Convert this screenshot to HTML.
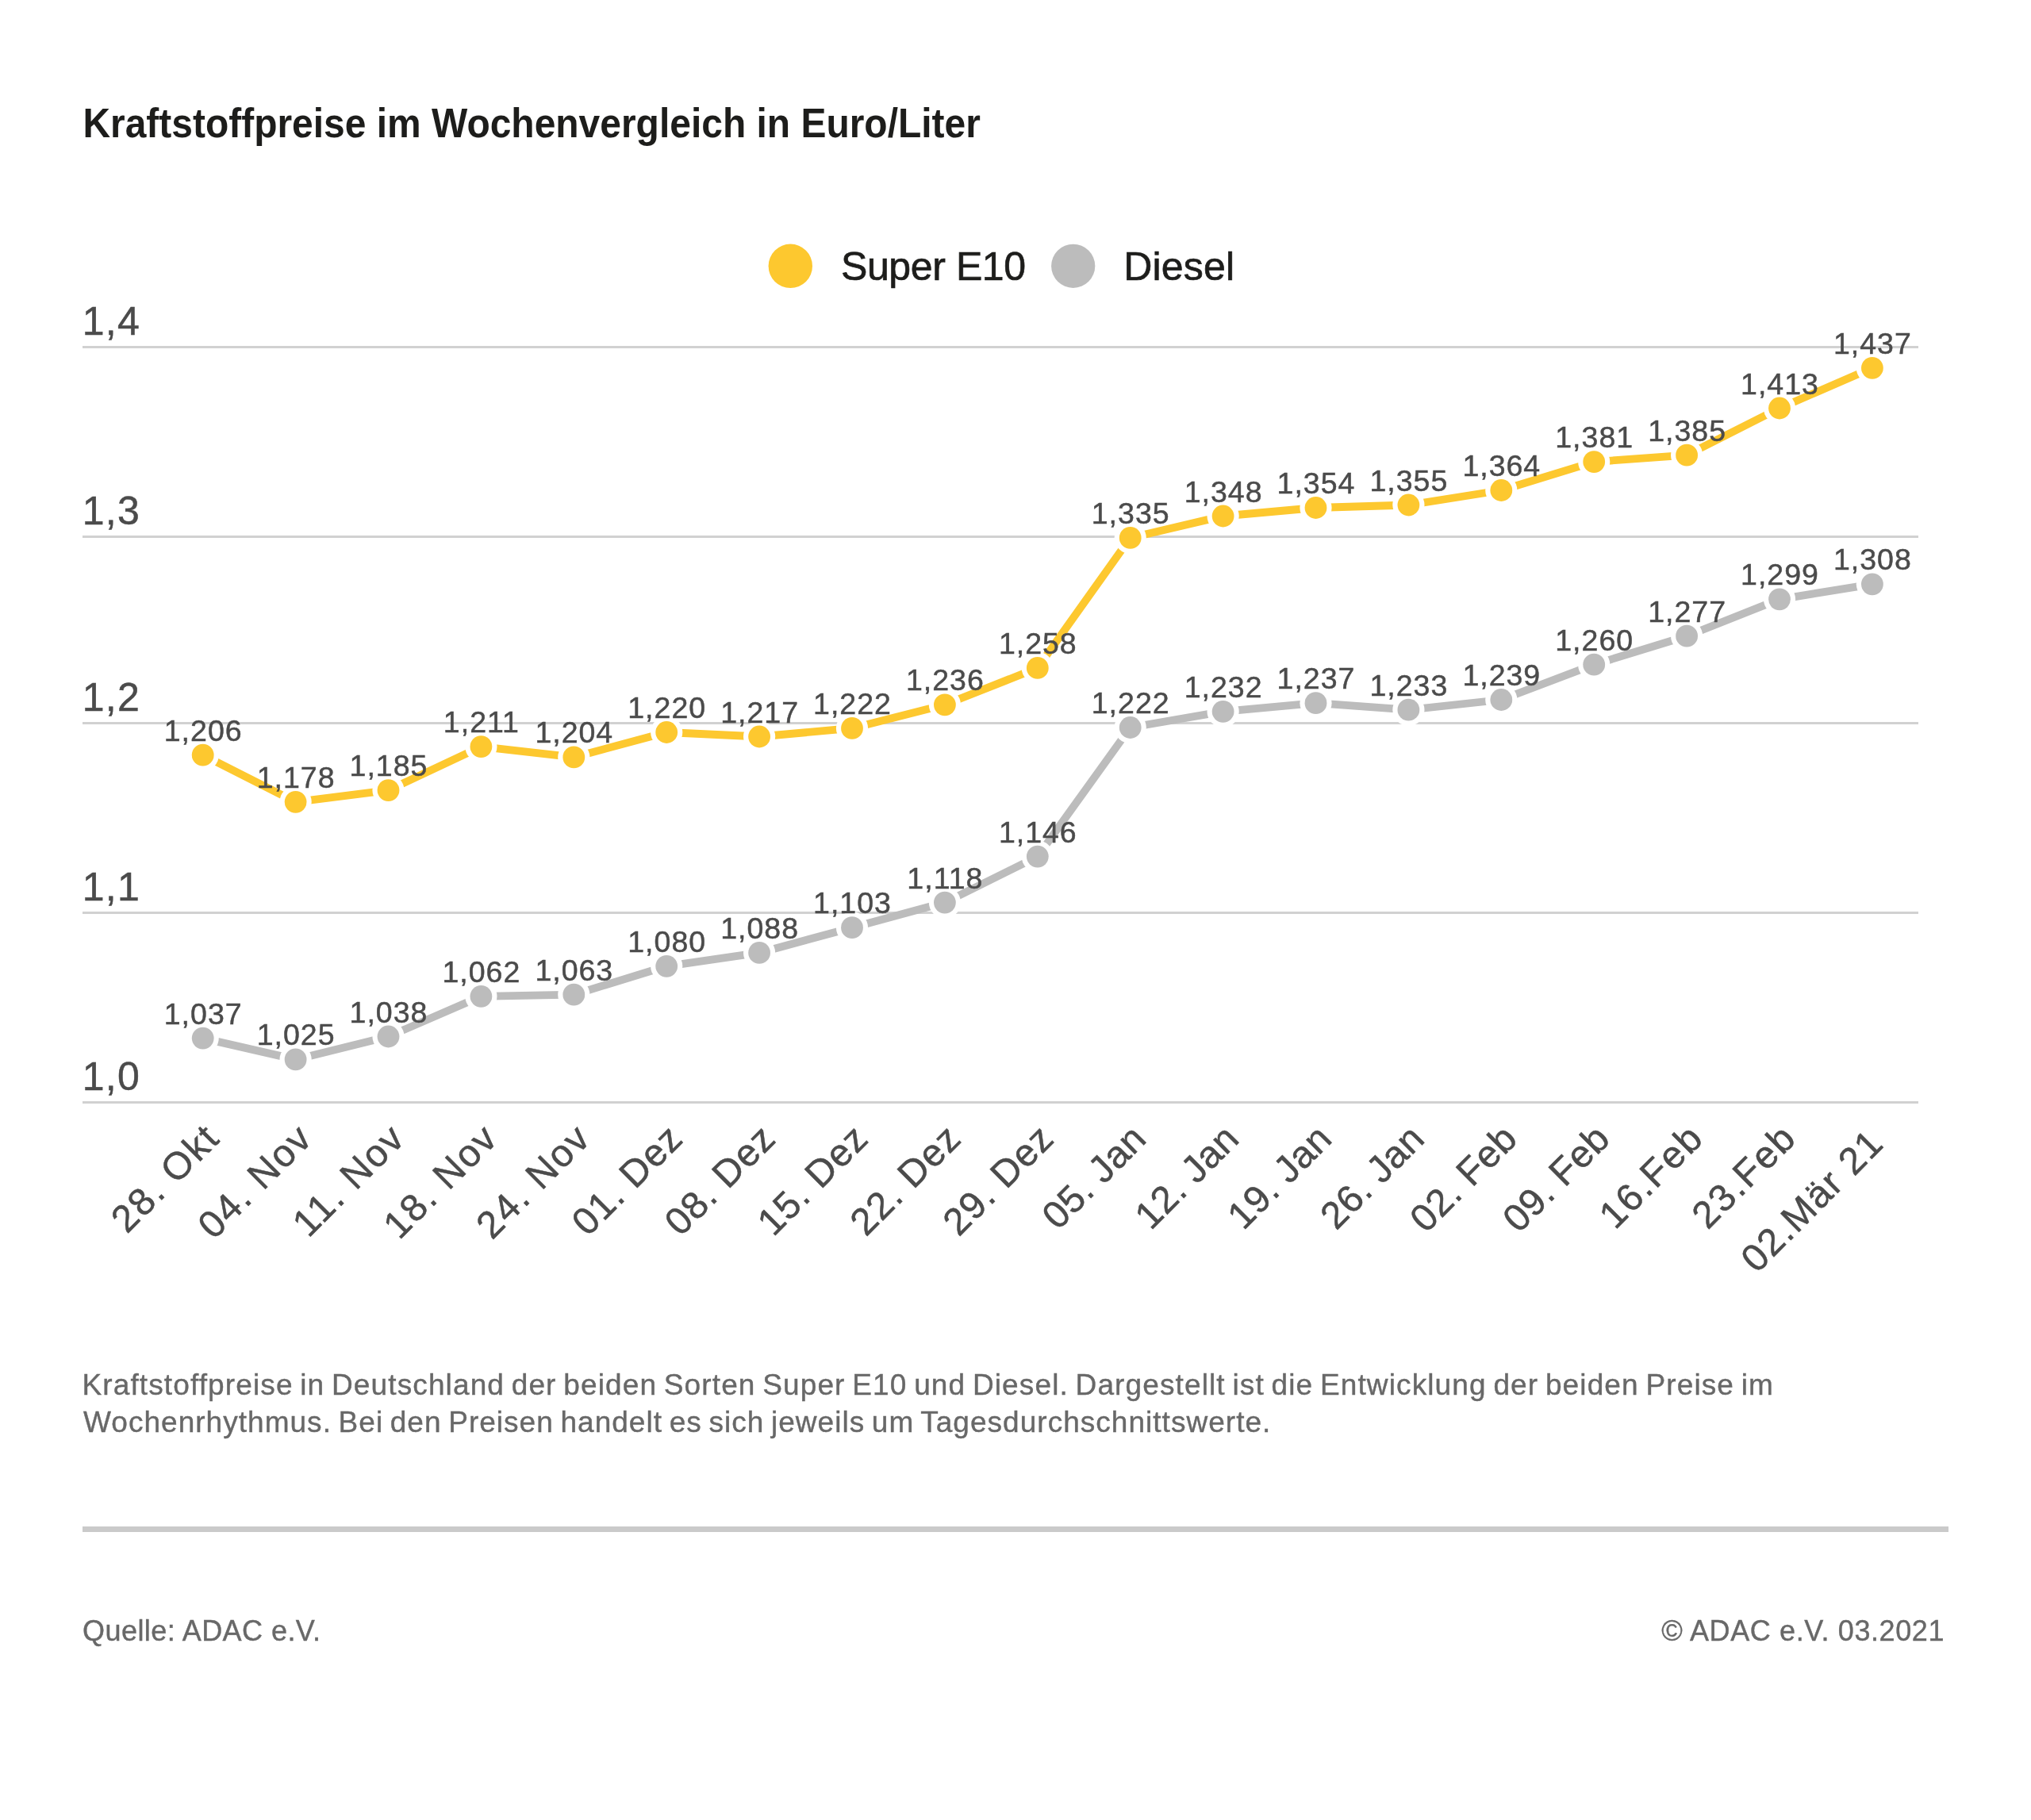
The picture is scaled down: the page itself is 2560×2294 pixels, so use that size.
<!DOCTYPE html>
<html lang="de"><head><meta charset="utf-8"><title>Kraftstoffpreise im Wochenvergleich</title>
<style>html,body{margin:0;padding:0;background:#fff}svg{display:block;will-change:transform}text{font-family:"Liberation Sans",sans-serif}</style></head><body>
<svg width="2560" height="2294" viewBox="0 0 2560 2294">
<rect width="2560" height="2294" fill="#ffffff"/>
<text id="title" x="104.4" y="173" font-size="52" font-weight="bold" textLength="1131.5" lengthAdjust="spacingAndGlyphs" fill="#1d1d1b">Kraftstoffpreise im Wochenvergleich in Euro/Liter</text>
<circle cx="996.3" cy="335.3" r="27.7" fill="#fdc82f"/>
<text id="leg1" x="1060" y="352.7" font-size="50" letter-spacing="-0.4" fill="#1d1d1b" stroke="#1d1d1b" stroke-width="0.7">Super E10</text>
<circle cx="1352.7" cy="335.3" r="27.6" fill="#bcbcbc"/>
<text id="leg2" x="1416.2" y="352.7" font-size="50" letter-spacing="0.2" fill="#1d1d1b" stroke="#1d1d1b" stroke-width="0.7">Diesel</text>
<rect x="104" y="436.0" width="2314" height="3" fill="#d1d1d1"/>
<rect x="104" y="675.0" width="2314" height="3" fill="#d1d1d1"/>
<rect x="104" y="910.0" width="2314" height="3" fill="#d1d1d1"/>
<rect x="104" y="1149.0" width="2314" height="3" fill="#d1d1d1"/>
<rect x="104" y="1388.0" width="2314" height="3" fill="#d1d1d1"/>
<text class="yl" x="103.7" y="421.8" font-size="50" letter-spacing="1.3" fill="#4b4b4b" stroke="#4b4b4b" stroke-width="0.5">1,4</text>
<text class="yl" x="103.7" y="660.8" font-size="50" letter-spacing="1.3" fill="#4b4b4b" stroke="#4b4b4b" stroke-width="0.5">1,3</text>
<text class="yl" x="103.7" y="895.8" font-size="50" letter-spacing="1.3" fill="#4b4b4b" stroke="#4b4b4b" stroke-width="0.5">1,2</text>
<text class="yl" x="103.7" y="1134.8" font-size="50" letter-spacing="1.3" fill="#4b4b4b" stroke="#4b4b4b" stroke-width="0.5">1,1</text>
<text class="yl" x="103.7" y="1373.8" font-size="50" letter-spacing="1.3" fill="#4b4b4b" stroke="#4b4b4b" stroke-width="0.5">1,0</text>
<polyline points="255.7,1308.6 372.6,1335.4 489.5,1306.5 606.4,1255.8 723.3,1253.7 840.2,1217.8 957.1,1200.9 1074.0,1169.2 1190.9,1137.6 1307.8,1079.6 1424.7,917.0 1541.6,896.8 1658.5,886.2 1775.4,894.7 1892.3,882.0 2009.2,837.7 2126.1,801.7 2243.0,755.3 2359.9,736.3" fill="none" stroke="#bcbcbc" stroke-width="9.8" stroke-linejoin="round" stroke-linecap="round"/>
<polyline points="255.7,951.7 372.6,1010.8 489.5,996.1 606.4,941.1 723.3,954.4 840.2,923.0 957.1,928.5 1074.0,917.9 1190.9,888.3 1307.8,841.9 1424.7,677.9 1541.6,650.5 1658.5,640.0 1775.4,636.5 1892.3,618.0 2009.2,582.1 2126.1,573.7 2243.0,514.5 2359.9,463.8" fill="none" stroke="#fdc82f" stroke-width="9.8" stroke-linejoin="round" stroke-linecap="round"/>
<circle cx="255.7" cy="1308.6" r="20.1" fill="#fff"/><circle cx="255.7" cy="1308.6" r="13.9" fill="#bcbcbc"/>
<circle cx="372.6" cy="1335.4" r="20.1" fill="#fff"/><circle cx="372.6" cy="1335.4" r="13.9" fill="#bcbcbc"/>
<circle cx="489.5" cy="1306.5" r="20.1" fill="#fff"/><circle cx="489.5" cy="1306.5" r="13.9" fill="#bcbcbc"/>
<circle cx="606.4" cy="1255.8" r="20.1" fill="#fff"/><circle cx="606.4" cy="1255.8" r="13.9" fill="#bcbcbc"/>
<circle cx="723.3" cy="1253.7" r="20.1" fill="#fff"/><circle cx="723.3" cy="1253.7" r="13.9" fill="#bcbcbc"/>
<circle cx="840.2" cy="1217.8" r="20.1" fill="#fff"/><circle cx="840.2" cy="1217.8" r="13.9" fill="#bcbcbc"/>
<circle cx="957.1" cy="1200.9" r="20.1" fill="#fff"/><circle cx="957.1" cy="1200.9" r="13.9" fill="#bcbcbc"/>
<circle cx="1074.0" cy="1169.2" r="20.1" fill="#fff"/><circle cx="1074.0" cy="1169.2" r="13.9" fill="#bcbcbc"/>
<circle cx="1190.9" cy="1137.6" r="20.1" fill="#fff"/><circle cx="1190.9" cy="1137.6" r="13.9" fill="#bcbcbc"/>
<circle cx="1307.8" cy="1079.6" r="20.1" fill="#fff"/><circle cx="1307.8" cy="1079.6" r="13.9" fill="#bcbcbc"/>
<circle cx="1424.7" cy="917.0" r="20.1" fill="#fff"/><circle cx="1424.7" cy="917.0" r="13.9" fill="#bcbcbc"/>
<circle cx="1541.6" cy="896.8" r="20.1" fill="#fff"/><circle cx="1541.6" cy="896.8" r="13.9" fill="#bcbcbc"/>
<circle cx="1658.5" cy="886.2" r="20.1" fill="#fff"/><circle cx="1658.5" cy="886.2" r="13.9" fill="#bcbcbc"/>
<circle cx="1775.4" cy="894.7" r="20.1" fill="#fff"/><circle cx="1775.4" cy="894.7" r="13.9" fill="#bcbcbc"/>
<circle cx="1892.3" cy="882.0" r="20.1" fill="#fff"/><circle cx="1892.3" cy="882.0" r="13.9" fill="#bcbcbc"/>
<circle cx="2009.2" cy="837.7" r="20.1" fill="#fff"/><circle cx="2009.2" cy="837.7" r="13.9" fill="#bcbcbc"/>
<circle cx="2126.1" cy="801.7" r="20.1" fill="#fff"/><circle cx="2126.1" cy="801.7" r="13.9" fill="#bcbcbc"/>
<circle cx="2243.0" cy="755.3" r="20.1" fill="#fff"/><circle cx="2243.0" cy="755.3" r="13.9" fill="#bcbcbc"/>
<circle cx="2359.9" cy="736.3" r="20.1" fill="#fff"/><circle cx="2359.9" cy="736.3" r="13.9" fill="#bcbcbc"/>
<circle cx="255.7" cy="951.7" r="20.1" fill="#fff"/><circle cx="255.7" cy="951.7" r="13.9" fill="#fdc82f"/>
<circle cx="372.6" cy="1010.8" r="20.1" fill="#fff"/><circle cx="372.6" cy="1010.8" r="13.9" fill="#fdc82f"/>
<circle cx="489.5" cy="996.1" r="20.1" fill="#fff"/><circle cx="489.5" cy="996.1" r="13.9" fill="#fdc82f"/>
<circle cx="606.4" cy="941.1" r="20.1" fill="#fff"/><circle cx="606.4" cy="941.1" r="13.9" fill="#fdc82f"/>
<circle cx="723.3" cy="954.4" r="20.1" fill="#fff"/><circle cx="723.3" cy="954.4" r="13.9" fill="#fdc82f"/>
<circle cx="840.2" cy="923.0" r="20.1" fill="#fff"/><circle cx="840.2" cy="923.0" r="13.9" fill="#fdc82f"/>
<circle cx="957.1" cy="928.5" r="20.1" fill="#fff"/><circle cx="957.1" cy="928.5" r="13.9" fill="#fdc82f"/>
<circle cx="1074.0" cy="917.9" r="20.1" fill="#fff"/><circle cx="1074.0" cy="917.9" r="13.9" fill="#fdc82f"/>
<circle cx="1190.9" cy="888.3" r="20.1" fill="#fff"/><circle cx="1190.9" cy="888.3" r="13.9" fill="#fdc82f"/>
<circle cx="1307.8" cy="841.9" r="20.1" fill="#fff"/><circle cx="1307.8" cy="841.9" r="13.9" fill="#fdc82f"/>
<circle cx="1424.7" cy="677.9" r="20.1" fill="#fff"/><circle cx="1424.7" cy="677.9" r="13.9" fill="#fdc82f"/>
<circle cx="1541.6" cy="650.5" r="20.1" fill="#fff"/><circle cx="1541.6" cy="650.5" r="13.9" fill="#fdc82f"/>
<circle cx="1658.5" cy="640.0" r="20.1" fill="#fff"/><circle cx="1658.5" cy="640.0" r="13.9" fill="#fdc82f"/>
<circle cx="1775.4" cy="636.5" r="20.1" fill="#fff"/><circle cx="1775.4" cy="636.5" r="13.9" fill="#fdc82f"/>
<circle cx="1892.3" cy="618.0" r="20.1" fill="#fff"/><circle cx="1892.3" cy="618.0" r="13.9" fill="#fdc82f"/>
<circle cx="2009.2" cy="582.1" r="20.1" fill="#fff"/><circle cx="2009.2" cy="582.1" r="13.9" fill="#fdc82f"/>
<circle cx="2126.1" cy="573.7" r="20.1" fill="#fff"/><circle cx="2126.1" cy="573.7" r="13.9" fill="#fdc82f"/>
<circle cx="2243.0" cy="514.5" r="20.1" fill="#fff"/><circle cx="2243.0" cy="514.5" r="13.9" fill="#fdc82f"/>
<circle cx="2359.9" cy="463.8" r="20.1" fill="#fff"/><circle cx="2359.9" cy="463.8" r="13.9" fill="#fdc82f"/>
<text class="dl" x="256.2" y="933.7" text-anchor="middle" font-size="37.5" letter-spacing="1.0" fill="#4b4b4b" stroke="#4b4b4b" stroke-width="0.5">1,206</text>
<text class="dl" x="373.1" y="992.8" text-anchor="middle" font-size="37.5" letter-spacing="1.0" fill="#4b4b4b" stroke="#4b4b4b" stroke-width="0.5">1,178</text>
<text class="dl" x="490.0" y="978.1" text-anchor="middle" font-size="37.5" letter-spacing="1.0" fill="#4b4b4b" stroke="#4b4b4b" stroke-width="0.5">1,185</text>
<text class="dl" x="606.9" y="923.1" text-anchor="middle" font-size="37.5" letter-spacing="1.0" fill="#4b4b4b" stroke="#4b4b4b" stroke-width="0.5">1,211</text>
<text class="dl" x="723.8" y="936.4" text-anchor="middle" font-size="37.5" letter-spacing="1.0" fill="#4b4b4b" stroke="#4b4b4b" stroke-width="0.5">1,204</text>
<text class="dl" x="840.7" y="905.0" text-anchor="middle" font-size="37.5" letter-spacing="1.0" fill="#4b4b4b" stroke="#4b4b4b" stroke-width="0.5">1,220</text>
<text class="dl" x="957.6" y="910.5" text-anchor="middle" font-size="37.5" letter-spacing="1.0" fill="#4b4b4b" stroke="#4b4b4b" stroke-width="0.5">1,217</text>
<text class="dl" x="1074.5" y="899.9" text-anchor="middle" font-size="37.5" letter-spacing="1.0" fill="#4b4b4b" stroke="#4b4b4b" stroke-width="0.5">1,222</text>
<text class="dl" x="1191.4" y="870.3" text-anchor="middle" font-size="37.5" letter-spacing="1.0" fill="#4b4b4b" stroke="#4b4b4b" stroke-width="0.5">1,236</text>
<text class="dl" x="1308.3" y="823.9" text-anchor="middle" font-size="37.5" letter-spacing="1.0" fill="#4b4b4b" stroke="#4b4b4b" stroke-width="0.5">1,258</text>
<text class="dl" x="1425.2" y="659.9" text-anchor="middle" font-size="37.5" letter-spacing="1.0" fill="#4b4b4b" stroke="#4b4b4b" stroke-width="0.5">1,335</text>
<text class="dl" x="1542.1" y="632.5" text-anchor="middle" font-size="37.5" letter-spacing="1.0" fill="#4b4b4b" stroke="#4b4b4b" stroke-width="0.5">1,348</text>
<text class="dl" x="1659.0" y="622.0" text-anchor="middle" font-size="37.5" letter-spacing="1.0" fill="#4b4b4b" stroke="#4b4b4b" stroke-width="0.5">1,354</text>
<text class="dl" x="1775.9" y="618.5" text-anchor="middle" font-size="37.5" letter-spacing="1.0" fill="#4b4b4b" stroke="#4b4b4b" stroke-width="0.5">1,355</text>
<text class="dl" x="1892.8" y="600.0" text-anchor="middle" font-size="37.5" letter-spacing="1.0" fill="#4b4b4b" stroke="#4b4b4b" stroke-width="0.5">1,364</text>
<text class="dl" x="2009.7" y="564.1" text-anchor="middle" font-size="37.5" letter-spacing="1.0" fill="#4b4b4b" stroke="#4b4b4b" stroke-width="0.5">1,381</text>
<text class="dl" x="2126.6" y="555.7" text-anchor="middle" font-size="37.5" letter-spacing="1.0" fill="#4b4b4b" stroke="#4b4b4b" stroke-width="0.5">1,385</text>
<text class="dl" x="2243.5" y="496.5" text-anchor="middle" font-size="37.5" letter-spacing="1.0" fill="#4b4b4b" stroke="#4b4b4b" stroke-width="0.5">1,413</text>
<text class="dl" x="2360.4" y="445.8" text-anchor="middle" font-size="37.5" letter-spacing="1.0" fill="#4b4b4b" stroke="#4b4b4b" stroke-width="0.5">1,437</text>
<text class="dl" x="256.2" y="1290.6" text-anchor="middle" font-size="37.5" letter-spacing="1.0" fill="#4b4b4b" stroke="#4b4b4b" stroke-width="0.5">1,037</text>
<text class="dl" x="373.1" y="1317.4" text-anchor="middle" font-size="37.5" letter-spacing="1.0" fill="#4b4b4b" stroke="#4b4b4b" stroke-width="0.5">1,025</text>
<text class="dl" x="490.0" y="1288.5" text-anchor="middle" font-size="37.5" letter-spacing="1.0" fill="#4b4b4b" stroke="#4b4b4b" stroke-width="0.5">1,038</text>
<text class="dl" x="606.9" y="1237.8" text-anchor="middle" font-size="37.5" letter-spacing="1.0" fill="#4b4b4b" stroke="#4b4b4b" stroke-width="0.5">1,062</text>
<text class="dl" x="723.8" y="1235.7" text-anchor="middle" font-size="37.5" letter-spacing="1.0" fill="#4b4b4b" stroke="#4b4b4b" stroke-width="0.5">1,063</text>
<text class="dl" x="840.7" y="1199.8" text-anchor="middle" font-size="37.5" letter-spacing="1.0" fill="#4b4b4b" stroke="#4b4b4b" stroke-width="0.5">1,080</text>
<text class="dl" x="957.6" y="1182.9" text-anchor="middle" font-size="37.5" letter-spacing="1.0" fill="#4b4b4b" stroke="#4b4b4b" stroke-width="0.5">1,088</text>
<text class="dl" x="1074.5" y="1151.2" text-anchor="middle" font-size="37.5" letter-spacing="1.0" fill="#4b4b4b" stroke="#4b4b4b" stroke-width="0.5">1,103</text>
<text class="dl" x="1191.4" y="1119.6" text-anchor="middle" font-size="37.5" letter-spacing="1.0" fill="#4b4b4b" stroke="#4b4b4b" stroke-width="0.5">1,118</text>
<text class="dl" x="1308.3" y="1061.6" text-anchor="middle" font-size="37.5" letter-spacing="1.0" fill="#4b4b4b" stroke="#4b4b4b" stroke-width="0.5">1,146</text>
<text class="dl" x="1425.2" y="899.0" text-anchor="middle" font-size="37.5" letter-spacing="1.0" fill="#4b4b4b" stroke="#4b4b4b" stroke-width="0.5">1,222</text>
<text class="dl" x="1542.1" y="878.8" text-anchor="middle" font-size="37.5" letter-spacing="1.0" fill="#4b4b4b" stroke="#4b4b4b" stroke-width="0.5">1,232</text>
<text class="dl" x="1659.0" y="868.2" text-anchor="middle" font-size="37.5" letter-spacing="1.0" fill="#4b4b4b" stroke="#4b4b4b" stroke-width="0.5">1,237</text>
<text class="dl" x="1775.9" y="876.7" text-anchor="middle" font-size="37.5" letter-spacing="1.0" fill="#4b4b4b" stroke="#4b4b4b" stroke-width="0.5">1,233</text>
<text class="dl" x="1892.8" y="864.0" text-anchor="middle" font-size="37.5" letter-spacing="1.0" fill="#4b4b4b" stroke="#4b4b4b" stroke-width="0.5">1,239</text>
<text class="dl" x="2009.7" y="819.7" text-anchor="middle" font-size="37.5" letter-spacing="1.0" fill="#4b4b4b" stroke="#4b4b4b" stroke-width="0.5">1,260</text>
<text class="dl" x="2126.6" y="783.7" text-anchor="middle" font-size="37.5" letter-spacing="1.0" fill="#4b4b4b" stroke="#4b4b4b" stroke-width="0.5">1,277</text>
<text class="dl" x="2243.5" y="737.3" text-anchor="middle" font-size="37.5" letter-spacing="1.0" fill="#4b4b4b" stroke="#4b4b4b" stroke-width="0.5">1,299</text>
<text class="dl" x="2360.4" y="718.3" text-anchor="middle" font-size="37.5" letter-spacing="1.0" fill="#4b4b4b" stroke="#4b4b4b" stroke-width="0.5">1,308</text>
<text class="xl" transform="translate(278.0,1438.2) rotate(-45)" x="2.0" y="0" text-anchor="end" font-size="48" letter-spacing="2.0" fill="#4b4b4b" stroke="#4b4b4b" stroke-width="0.5">28. Okt</text>
<text class="xl" transform="translate(394.9,1438.2) rotate(-45)" x="2.0" y="0" text-anchor="end" font-size="48" letter-spacing="2.0" fill="#4b4b4b" stroke="#4b4b4b" stroke-width="0.5">04. Nov</text>
<text class="xl" transform="translate(511.8,1438.2) rotate(-45)" x="2.0" y="0" text-anchor="end" font-size="48" letter-spacing="2.0" fill="#4b4b4b" stroke="#4b4b4b" stroke-width="0.5">11. Nov</text>
<text class="xl" transform="translate(628.7,1438.2) rotate(-45)" x="2.0" y="0" text-anchor="end" font-size="48" letter-spacing="2.0" fill="#4b4b4b" stroke="#4b4b4b" stroke-width="0.5">18. Nov</text>
<text class="xl" transform="translate(745.6,1438.2) rotate(-45)" x="2.0" y="0" text-anchor="end" font-size="48" letter-spacing="2.0" fill="#4b4b4b" stroke="#4b4b4b" stroke-width="0.5">24. Nov</text>
<text class="xl" transform="translate(862.5,1438.2) rotate(-45)" x="1.1" y="0" text-anchor="end" font-size="48" letter-spacing="1.1" fill="#4b4b4b" stroke="#4b4b4b" stroke-width="0.5">01. Dez</text>
<text class="xl" transform="translate(979.4,1438.2) rotate(-45)" x="1.1" y="0" text-anchor="end" font-size="48" letter-spacing="1.1" fill="#4b4b4b" stroke="#4b4b4b" stroke-width="0.5">08. Dez</text>
<text class="xl" transform="translate(1096.3,1438.2) rotate(-45)" x="1.1" y="0" text-anchor="end" font-size="48" letter-spacing="1.1" fill="#4b4b4b" stroke="#4b4b4b" stroke-width="0.5">15. Dez</text>
<text class="xl" transform="translate(1213.2,1438.2) rotate(-45)" x="1.1" y="0" text-anchor="end" font-size="48" letter-spacing="1.1" fill="#4b4b4b" stroke="#4b4b4b" stroke-width="0.5">22. Dez</text>
<text class="xl" transform="translate(1330.1,1438.2) rotate(-45)" x="1.1" y="0" text-anchor="end" font-size="48" letter-spacing="1.1" fill="#4b4b4b" stroke="#4b4b4b" stroke-width="0.5">29. Dez</text>
<text class="xl" transform="translate(1447.0,1438.2) rotate(-45)" x="0.5" y="0" text-anchor="end" font-size="48" letter-spacing="0.5" fill="#4b4b4b" stroke="#4b4b4b" stroke-width="0.5">05. Jan</text>
<text class="xl" transform="translate(1563.9,1438.2) rotate(-45)" x="0.5" y="0" text-anchor="end" font-size="48" letter-spacing="0.5" fill="#4b4b4b" stroke="#4b4b4b" stroke-width="0.5">12. Jan</text>
<text class="xl" transform="translate(1680.8,1438.2) rotate(-45)" x="0.5" y="0" text-anchor="end" font-size="48" letter-spacing="0.5" fill="#4b4b4b" stroke="#4b4b4b" stroke-width="0.5">19. Jan</text>
<text class="xl" transform="translate(1797.7,1438.2) rotate(-45)" x="0.5" y="0" text-anchor="end" font-size="48" letter-spacing="0.5" fill="#4b4b4b" stroke="#4b4b4b" stroke-width="0.5">26. Jan</text>
<text class="xl" transform="translate(1914.6,1438.2) rotate(-45)" x="0.5" y="0" text-anchor="end" font-size="48" letter-spacing="0.5" fill="#4b4b4b" stroke="#4b4b4b" stroke-width="0.5">02. Feb</text>
<text class="xl" transform="translate(2031.5,1438.2) rotate(-45)" x="0.5" y="0" text-anchor="end" font-size="48" letter-spacing="0.5" fill="#4b4b4b" stroke="#4b4b4b" stroke-width="0.5">09. Feb</text>
<text class="xl" transform="translate(2148.4,1438.2) rotate(-45)" x="2.0" y="0" text-anchor="end" font-size="48" letter-spacing="2.0" fill="#4b4b4b" stroke="#4b4b4b" stroke-width="0.5">16.Feb</text>
<text class="xl" transform="translate(2265.3,1438.2) rotate(-45)" x="2.0" y="0" text-anchor="end" font-size="48" letter-spacing="2.0" fill="#4b4b4b" stroke="#4b4b4b" stroke-width="0.5">23.Feb</text>
<text class="xl" transform="translate(2375.7,1444.7) rotate(-45)" x="1.5" y="0" text-anchor="end" font-size="48" letter-spacing="1.5" fill="#4b4b4b" stroke="#4b4b4b" stroke-width="0.5">02.Mär 21</text>
<text id="d1" x="103.5" y="1757.6" font-size="37" letter-spacing="1.12" word-spacing="-2.7" fill="#686868" stroke="#686868" stroke-width="0.4">Kraftstoffpreise in Deutschland der beiden Sorten Super E10 und Diesel. Dargestellt ist die Entwicklung der beiden Preise im</text>
<text id="d2" x="105.0" y="1805.4" font-size="37" letter-spacing="1.03" word-spacing="-2.7" fill="#686868" stroke="#686868" stroke-width="0.4">Wochenrhythmus. Bei den Preisen handelt es sich jeweils um Tagesdurchschnittswerte.</text>
<rect x="104" y="1924" width="2352" height="7" fill="#cacaca"/>
<text id="f1" x="104" y="2068.4" font-size="36" letter-spacing="0.45" fill="#686868" stroke="#686868" stroke-width="0.4">Quelle: ADAC e.V.</text>
<text id="f2" x="2451.1" y="2068.4" text-anchor="end" font-size="36" letter-spacing="0.6" fill="#686868" stroke="#686868" stroke-width="0.4">© ADAC e.V. 03.2021</text>
</svg></body></html>
